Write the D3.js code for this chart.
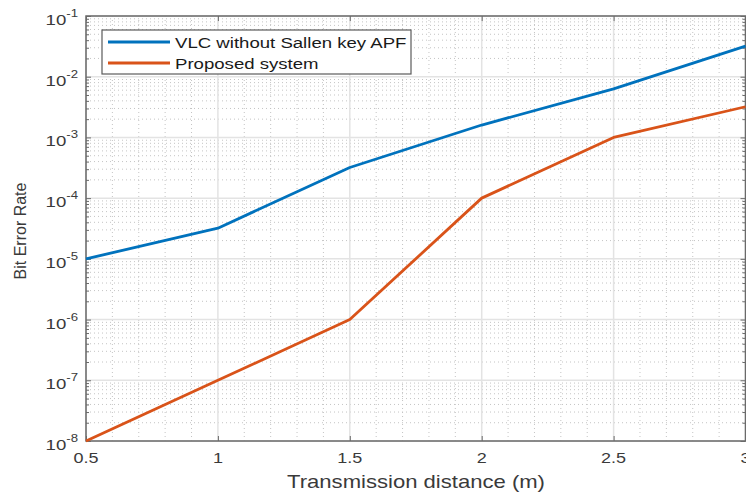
<!DOCTYPE html>
<html><head><meta charset="utf-8">
<script src="https://cdn.jsdelivr.net/npm/d3@7"></script>
<style>body{margin:0;background:#fff;} svg{display:block;font-family:"Liberation Sans",Arial,sans-serif;}</style>
</head><body>
<svg id="c" width="746" height="492"></svg>
<script>
const distances = [0.5, 1, 1.5, 2, 2.5, 3];
const berBaseline = [1e-5, 3.2e-5, 3.2e-4, 1.6e-3, 6.3e-3, 3.2e-2];
const berProposed = [1e-8, 1e-7, 1e-6, 1e-4, 1e-3, 3.2e-3];
const seriesNames = ["VLC without Sallen key APF", "Proposed system"];
const xTicks = [0.5, 1, 1.5, 2, 2.5, 3];
const xTickLabels = ["0.5", "1", "1.5", "2", "2.5", "3"];
const yExponents = [-1, -2, -3, -4, -5, -6, -7, -8];

const svg = d3.select("#c");
const L = 86, R = 745.5, T = 16, B = 441;
const SX = 1.2;
const x = d3.scaleLinear().domain([0.5, 3]).range([L, R]);
const y = d3.scaleLog().domain([1e-8, 1e-1]).range([B, T]);
const colors = ["#0072BD", "#D95319"];
const axisCol = "#6a6a6a", textCol = "#3a3a3a";

// minor grid
const minorY = [];
for (let e = -8; e < -1; e++) for (let m = 2; m <= 9; m++) minorY.push(m * Math.pow(10, e));
const minorX = d3.range(0.6, 3.0, 0.1).filter(v => Math.abs(v * 2 - Math.round(v * 2)) > 1e-6);
const g = svg.append("g");
g.selectAll(".mny").data(minorY).join("line")
  .attr("x1", L).attr("x2", R).attr("y1", d => y(d)).attr("y2", d => y(d))
  .attr("stroke", "#c4c4c4").attr("stroke-width", 1).attr("stroke-dasharray", "1,3");
g.selectAll(".mnx").data(minorX).join("line")
  .attr("y1", T).attr("y2", B).attr("x1", d => x(d)).attr("x2", d => x(d))
  .attr("stroke", "#c4c4c4").attr("stroke-width", 1).attr("stroke-dasharray", "1,3");
// major grid
g.selectAll(".mjy").data(yExponents.map(e => Math.pow(10, e))).join("line")
  .attr("x1", L).attr("x2", R).attr("y1", d => y(d)).attr("y2", d => y(d))
  .attr("stroke", "#e3e3e3").attr("stroke-width", 1.5);
g.selectAll(".mjx").data(xTicks).join("line")
  .attr("y1", T).attr("y2", B).attr("x1", d => x(d)).attr("x2", d => x(d))
  .attr("stroke", "#e3e3e3").attr("stroke-width", 1.5);

// axes box
svg.append("rect").attr("x", L).attr("y", T).attr("width", R - L).attr("height", B - T)
  .attr("fill", "none").attr("stroke", axisCol).attr("stroke-width", 1.5);

// ticks via d3 axes (inside)
const xAxB = d3.axisBottom(x).tickValues(xTicks).tickSize(-5).tickFormat("");
const xAxT = d3.axisTop(x).tickValues(xTicks).tickSize(-5).tickFormat("");
svg.append("g").attr("transform", `translate(0,${B})`).call(xAxB).call(s => { s.select(".domain").remove(); s.selectAll("line").attr("stroke", axisCol); });
svg.append("g").attr("transform", `translate(0,${T})`).call(xAxT).call(s => { s.select(".domain").remove(); s.selectAll("line").attr("stroke", axisCol); });
const yMaj = yExponents.map(e => Math.pow(10, e));
[[d3.axisLeft, L], [d3.axisRight, R]].forEach(([ax, pos]) => {
  svg.append("g").attr("transform", `translate(${pos},0)`).call(ax(y).tickValues(yMaj).tickSize(-5).tickFormat(""))
    .call(s => { s.select(".domain").remove(); s.selectAll("line").attr("stroke", axisCol); });
  svg.append("g").attr("transform", `translate(${pos},0)`).call(ax(y).tickValues(minorY).tickSize(-3).tickFormat(""))
    .call(s => { s.select(".domain").remove(); s.selectAll("line").attr("stroke", axisCol); });
});

// x tick labels
svg.selectAll(".xl").data(xTicks).join("text")
  .attr("transform", d => `translate(${x(d)},463) scale(${SX},1)`).attr("text-anchor", "middle")
  .attr("font-size", 15).attr("fill", textCol).text((d, i) => xTickLabels[i]);
// y tick labels
yExponents.forEach(e => {
  const t = svg.append("text").attr("transform", `translate(78,${y(Math.pow(10, e)) + 9}) scale(${SX},1)`)
    .attr("text-anchor", "end").attr("font-size", 15.5).attr("fill", textCol);
  t.append("tspan").text("10");
  t.append("tspan").attr("dy", -8).attr("font-size", 11).text(String(e));
});

// axis labels
svg.append("text").attr("transform", `translate(416,488) scale(${SX},1)`).attr("text-anchor", "middle")
  .attr("font-size", 18.4).attr("fill", textCol).text("Transmission distance (m)");
svg.append("text").attr("transform", "translate(26,231) rotate(-90)").attr("text-anchor", "middle")
  .attr("font-size", 16).attr("fill", textCol).text("Bit Error Rate");

// lines
const line = d3.line().x(d => x(d[0])).y(d => y(d[1]));
[berBaseline, berProposed].forEach((s, i) => {
  svg.append("path").datum(distances.map((d, j) => [d, s[j]]))
    .attr("d", line).attr("fill", "none").attr("stroke", colors[i]).attr("stroke-width", 2.8)
    .attr("stroke-linejoin", "round");
});

// legend
const lg = svg.append("g");
lg.append("rect").attr("x", 102).attr("y", 30).attr("width", 309).attr("height", 44)
  .attr("fill", "#fff").attr("stroke", "#5a5a5a").attr("stroke-width", 1.2);
seriesNames.forEach((n, i) => {
  const yy = 42 + i * 21;
  lg.append("line").attr("x1", 108).attr("x2", 170).attr("y1", yy).attr("y2", yy)
    .attr("stroke", colors[i]).attr("stroke-width", 2.8);
  lg.append("text").attr("transform", `translate(175,${yy + 5.5}) scale(${SX},1)`)
    .attr("font-size", 15.5).attr("fill", "#1a1a1a").text(n);
});
</script>
</body></html>
